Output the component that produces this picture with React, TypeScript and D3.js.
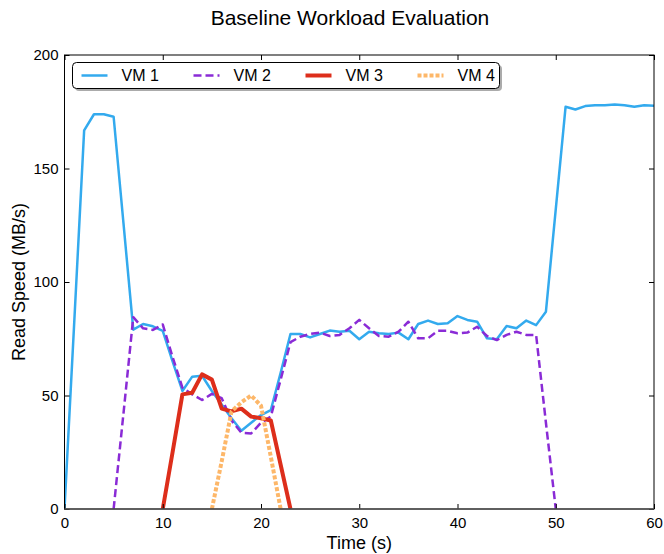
import { useEffect, useRef } from 'react';
import * as d3 from 'd3';

// read speed samples, one per second, starting at the given second
const vm1Start = 0;
const vm1 = [0, 83, 166.8, 173.9, 173.9, 172.8, 126, 79, 81.5, 80.5, 78.5, 65, 52, 58.3, 58.7, 52, 46, 40, 34.5, 38, 41.4,
  43.6, 60, 77.1, 77.1, 75.6, 77.1, 78.6, 78.1, 78.5, 74.8, 78.1, 77.4, 77.1, 77.7, 74.8, 81.5, 83, 81.5, 81.8, 85,
  83.3, 82.5, 75.2, 74.8, 80.6, 79.6, 83, 81, 86.9, 132, 177.2, 176, 177.5, 177.9, 177.9, 178.2, 177.9, 177.2, 177.9, 177.6];
const vm2Start = 5;
const vm2 = [0, 42, 84.5, 79.6, 78.9, 81.3, 67, 53.5, 50.5, 48, 50.7, 48.8, 39, 33.6, 33.3, 38, 40.7, 57, 73.5, 75.9,
  77.1, 77.7, 76.2, 76.7, 79.6, 83.3, 79.6, 76.2, 75.9, 78.1, 82.5, 75.2, 75.2, 78.5, 78.5, 77.4, 77.7, 80.3, 76.2,
  74.4, 76.7, 78.1, 76.7, 76.7, 38, 0];
const vm3Start = 10;
const vm3 = [0, 25, 50.5, 51.2, 59.3, 57, 44.2, 43, 44.2, 40.7, 40, 39, 19.5, 0];
const vm4Start = 15;
const vm4 = [0, 21, 43, 47, 50, 45.5, 23, 0];

const seriesNames = ['VM 1', 'VM 2', 'VM 3', 'VM 4'];
const xTicks = [0, 10, 20, 30, 40, 50, 60];
const yTicks = [0, 50, 100, 150, 200];

const styles = [
  { color: '#33aaee', width: 2.5, dash: null },
  { color: '#8a2bd6', width: 2.5, dash: '8,4' },
  { color: '#dd2e1b', width: 4, dash: null },
  { color: '#fdb769', width: 4, dash: '4,2' },
];

const FONT = '"Liberation Sans", Arial, sans-serif';

const App = () => {
  const ref = useRef<HTMLDivElement>(null);

  useEffect(() => {
    if (!ref.current) return;
    const width = 664, height = 554;
    const margin = { top: 55, right: 10, bottom: 45, left: 64.5 };
    const w = width - margin.left - margin.right;
    const h = height - margin.top - margin.bottom;

    d3.select(ref.current).selectAll('svg').remove();
    const svg = d3.select(ref.current)
      .append('svg')
      .attr('width', width)
      .attr('height', height)
      .style('position', 'absolute')
      .style('left', 0)
      .style('top', 0)
      .style('font-family', FONT);

    svg.append('rect').attr('width', width).attr('height', height).attr('fill', '#fff');

    const g = svg.append('g').attr('transform', `translate(${margin.left},${margin.top})`);

    const x = d3.scaleLinear().domain([0, 60]).range([0, w]);
    const y = d3.scaleLinear().domain([0, 200]).range([h, 0]);

    svg.append('defs').append('clipPath').attr('id', 'plot-clip')
      .append('rect').attr('x', 0).attr('y', -2).attr('width', w).attr('height', h + 2);

    const series = [
      { start: vm1Start, values: vm1 },
      { start: vm2Start, values: vm2 },
      { start: vm3Start, values: vm3 },
      { start: vm4Start, values: vm4 },
    ];

    series.forEach((s, k) => {
      const st = styles[k];
      g.append('path')
        .datum(s.values)
        .attr('clip-path', 'url(#plot-clip)')
        .attr('fill', 'none')
        .attr('stroke', st.color)
        .attr('stroke-width', st.width)
        .attr('stroke-linejoin', 'round')
        .attr('stroke-dasharray', st.dash)
        .attr('d', d3.line<number>().x((_, i) => x(i + s.start)).y(d => y(d)));
    });

    // axes, ticks pointing inward on every side
    const tickLen = 5;
    const axes = [
      g.append('g').attr('transform', `translate(0,${h})`).call(d3.axisBottom(x).tickValues(xTicks).tickSizeInner(-tickLen).tickSizeOuter(0).tickPadding(8)),
      g.append('g').call(d3.axisTop(x).tickValues(xTicks).tickSizeInner(-tickLen).tickSizeOuter(0).tickFormat(() => '')),
      g.append('g').call(d3.axisLeft(y).tickValues(yTicks).tickSizeInner(-tickLen).tickSizeOuter(0).tickPadding(6)),
      g.append('g').attr('transform', `translate(${w},0)`).call(d3.axisRight(y).tickValues(yTicks).tickSizeInner(-tickLen).tickSizeOuter(0).tickFormat(() => '')),
    ];
    axes.forEach(a => {
      a.select('.domain').remove();
      a.selectAll('line').attr('stroke', '#000');
      a.selectAll('text').attr('font-family', FONT).attr('font-size', 15).attr('fill', '#000');
    });

    g.append('rect')
      .attr('width', w).attr('height', h)
      .attr('fill', 'none').attr('stroke', '#000').attr('stroke-width', 1);
    g.append('line')
      .attr('x1', 0).attr('x2', w).attr('y1', h).attr('y2', h)
      .attr('stroke', '#555').attr('stroke-width', 1.5);

    // legend
    const lg = g.append('g').attr('transform', 'translate(8,7.5)');
    const lw = 427, lh = 26;
    lg.append('rect').attr('x', 2.5).attr('y', 2.5).attr('width', lw).attr('height', lh).attr('rx', 4)
      .attr('fill', '#888').attr('opacity', 0.7);
    lg.append('rect').attr('width', lw).attr('height', lh).attr('rx', 4)
      .attr('fill', '#fff').attr('stroke', '#000').attr('stroke-width', 1);
    seriesNames.forEach((name, k) => {
      const st = styles[k];
      const ox = 9 + k * 112;
      lg.append('line')
        .attr('x1', ox).attr('x2', ox + 26).attr('y1', 13).attr('y2', 13)
        .attr('stroke', st.color).attr('stroke-width', st.width)
        .attr('stroke-dasharray', st.dash);
      lg.append('text')
        .attr('x', ox + 40).attr('y', 13).attr('dy', '0.35em')
        .attr('font-size', 16).attr('fill', '#000')
        .text(name);
    });

    svg.append('text')
      .attr('x', 350).attr('y', 25)
      .attr('text-anchor', 'middle').attr('font-size', 21)
      .text('Baseline Workload Evaluation');

    svg.append('text')
      .attr('x', margin.left + w / 2).attr('y', 549)
      .attr('text-anchor', 'middle').attr('font-size', 18)
      .text('Time (s)');

    svg.append('text')
      .attr('transform', `translate(25,${margin.top + h / 2}) rotate(-90)`)
      .attr('text-anchor', 'middle').attr('font-size', 18)
      .text('Read Speed (MB/s)');
  }, []);

  return <div ref={ref} />;
};

export default App;
